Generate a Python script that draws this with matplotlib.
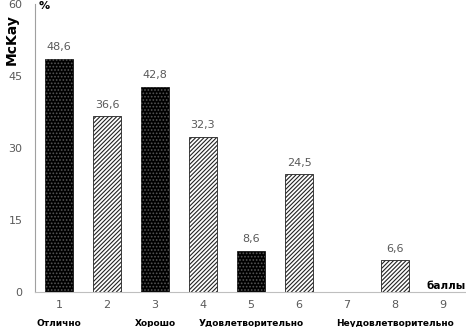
import matplotlib
matplotlib.use("Agg")
import matplotlib.pyplot as plt

categories = ["1", "2", "3", "4", "5", "6", "7", "8", "9"]
values = [48.6, 36.6, 42.8, 32.3, 8.6, 24.5, 0, 6.6, 0]
value_labels = ["48,6", "36,6", "42,8", "32,3", "8,6", "24,5", "", "6,6", ""]
grade_labels = {0: "Отлично", 2: "Хорошо", 4: "Удовлетворительно", 7: "Неудовлетворительно"}
yticks = [0, 15, 30, 45, 60]

plt.rcParams['font.family'] = ['DejaVu Sans']
plt.rcParams['hatch.linewidth'] = 0.8

fig = plt.figure(figsize=(4.66, 3.27), dpi=100)
ax = fig.add_axes([35/466, 1-292/327, 432/466, 288/327])

x = list(range(len(categories)))
for i, v in enumerate(values):
    if v == 0:
        continue
    if i % 2 == 0:
        ax.bar(i, v, width=0.58, color='black', edgecolor='black', linewidth=0.5, zorder=2)
        ax.bar(i, v, width=0.58, fill=False, hatch='.....', edgecolor='#555555', linewidth=0, zorder=3)
    else:
        ax.bar(i, v, width=0.58, color='white', edgecolor='#222222', hatch='////////', linewidth=0.6, zorder=2)
    ax.text(i, v + 1.4, value_labels[i], ha='center', va='bottom', fontsize=8, color='#595959')

ax.set_xlim(-0.5, 8.5)
ax.set_ylim(0, 60)
ax.set_xticks(x)
ax.set_xticklabels(categories, fontsize=8, color='#595959')
ax.set_yticks(yticks)
ax.set_yticklabels([str(t) for t in yticks], fontsize=8, color='#595959')
ax.tick_params(axis='both', length=0)
ax.tick_params(axis='x', pad=6)
ax.tick_params(axis='y', pad=9)
for s in ['top', 'right']:
    ax.spines[s].set_visible(False)
ax.spines['left'].set_color('#a0a0a0')
ax.spines['bottom'].set_color('#bfbfbf')

for i, lab in grade_labels.items():
    ax.text(i, -6.5, lab, ha='center', va='center', fontsize=6.5, fontweight='bold', transform=ax.transData, clip_on=False)

fig.text(12/466, 1-40/327, "McKay", rotation=90, ha='center', va='center', fontsize=10, fontweight='bold')
fig.text(44/466, 1-6/327, "%", ha='center', va='center', fontsize=8, fontweight='bold')
fig.text(446/466, 1-286/327, "баллы", ha='center', va='center', fontsize=7.5, fontweight='bold')

fig.savefig("out.png", dpi=100)
